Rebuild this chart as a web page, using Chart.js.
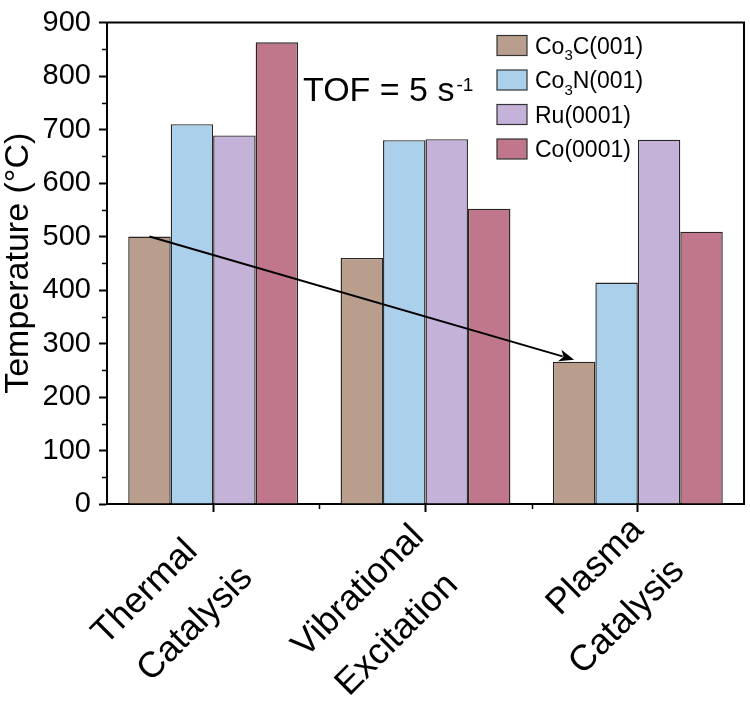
<!DOCTYPE html>
<html>
<head>
<meta charset="utf-8">
<script src="https://cdn.jsdelivr.net/npm/chart.js@4.4.1/dist/chart.umd.min.js"></script>
<style>
  html, body { margin: 0; padding: 0; background: #fff; }
  #wrap { width: 750px; height: 701px; }
</style>
</head>
<body>
<div id="wrap"><canvas id="chart"></canvas></div>
<script>
const categories = [['Thermal', 'Catalysis'], ['Vibrational', 'Excitation'], ['Plasma', 'Catalysis']];
// trailing spaces per label line, to nudge the rotated labels like the original
const tailSpaces = [[3, 1], [1, 2], [0, 0]];

const seriesLabels = ['Co₃C(001)', 'Co₃N(001)', 'Ru(0001)', 'Co(0001)'];
const co3c = [500, 460, 266];
const co3n = [710, 680, 414];
const ru = [689, 682, 681];
const co = [863, 552, 509];
const seriesColors = ['#b99e8d', '#abd0ec', '#c4b2d9', '#c0778b'];

const yMin = 0;
const yMax = 900;
const yStep = 100;

const FONT = "'Liberation Sans', Arial, sans-serif";

// draw text where ₀-₉ become small lowered digits
function drawRich(ctx, text, x, base, size) {
  let cx = x;
  for (const ch of text) {
    const code = ch.charCodeAt(0);
    if (code >= 0x2080 && code <= 0x2089) {
      ctx.font = Math.round(size * 0.65) + 'px ' + FONT;
      const d = String.fromCharCode(code - 0x2080 + 48);
      ctx.fillText(d, cx, base + size * 0.3);
      cx += ctx.measureText(d).width;
    } else {
      ctx.font = size + 'px ' + FONT;
      ctx.fillText(ch, cx, base);
      cx += ctx.measureText(ch).width;
    }
  }
}

const decor = {
  id: 'decor',
  afterDraw(chart) {
    const { ctx, chartArea: a, scales: { x, y } } = chart;
    ctx.save();
    ctx.strokeStyle = '#000';
    ctx.fillStyle = '#000';

    // frame top + right
    ctx.lineWidth = 2;
    ctx.beginPath();
    ctx.moveTo(a.left - 1, a.top);
    ctx.lineTo(a.right, a.top);
    ctx.lineTo(a.right, a.bottom);
    ctx.stroke();

    // minor ticks
    ctx.lineWidth = 1.5;
    ctx.beginPath();
    for (let v = yMin + yStep / 2; v < yMax; v += yStep) {
      const py = Math.round(y.getPixelForValue(v)) + 0.5;
      ctx.moveTo(a.left - 5, py);
      ctx.lineTo(a.left, py);
    }
    for (let i = 0; i < categories.length - 1; i++) {
      const px = Math.round((x.getPixelForValue(i) + x.getPixelForValue(i + 1)) / 2) + 0.5;
      ctx.moveTo(px, a.bottom);
      ctx.lineTo(px, a.bottom + 5);
    }
    ctx.stroke();

    // arrow from thermal Co3C to plasma Co3C
    const bars = chart.getDatasetMeta(0).data;
    const x0 = bars[0].x, y0 = bars[0].y;
    const x1 = bars[2].x, y1 = bars[2].y - 2;
    const ang = Math.atan2(y1 - y0, x1 - x0);
    const hl = 15, hw = 6;
    ctx.lineWidth = 2;
    ctx.beginPath();
    ctx.moveTo(x0, y0);
    ctx.lineTo(x1 - (hl - 3) * Math.cos(ang), y1 - (hl - 3) * Math.sin(ang));
    ctx.stroke();
    ctx.beginPath();
    ctx.moveTo(x1, y1);
    ctx.lineTo(x1 - hl * Math.cos(ang) + hw * Math.sin(ang), y1 - hl * Math.sin(ang) - hw * Math.cos(ang));
    ctx.lineTo(x1 - (hl - 4) * Math.cos(ang), y1 - (hl - 4) * Math.sin(ang));
    ctx.lineTo(x1 - hl * Math.cos(ang) - hw * Math.sin(ang), y1 - hl * Math.sin(ang) + hw * Math.cos(ang));
    ctx.closePath();
    ctx.fill();

    // TOF note
    ctx.textBaseline = 'alphabetic';
    ctx.textAlign = 'left';
    ctx.font = '34px ' + FONT;
    const tx = a.left + 196, tb = a.top + 78;
    ctx.fillText('TOF = 5 s', tx, tb);
    const tw = ctx.measureText('TOF = 5 s').width;
    ctx.font = '19px ' + FONT;
    ctx.fillText('-1', tx + tw + 2, tb - 10);

    // legend
    chart.data.datasets.forEach((ds, i) => {
      const cy = a.top + 23 + i * 34.5;
      const sx = a.right - 247;
      ctx.fillStyle = ds.backgroundColor;
      ctx.fillRect(sx, cy - 10, 30, 20);
      ctx.strokeStyle = '#333';
      ctx.lineWidth = 1.2;
      ctx.strokeRect(sx, cy - 10, 30, 20);
      ctx.fillStyle = '#000';
      drawRich(ctx, ds.label, sx + 38, cy + 8, 23);
    });

    ctx.restore();
  }
};

const datasets = [co3c, co3n, ru, co].map((vals, i) => ({
  label: seriesLabels[i],
  data: vals,
  backgroundColor: seriesColors[i],
  borderColor: '#262626',
  borderWidth: 1.4,
  categoryPercentage: 0.8,
  barPercentage: 1.0
}));

new Chart(document.getElementById('chart'), {
  type: 'bar',
  data: { labels: categories, datasets: datasets },
  plugins: [decor],
  options: {
    responsive: true,
    maintainAspectRatio: false,
    animation: false,
    layout: { padding: { top: 15, right: 6, left: 0, bottom: 0 } },
    plugins: {
      legend: { display: false },
      tooltip: { enabled: false }
    },
    scales: {
      x: {
        afterFit(s) { s.height = 197; },
        grid: {
          offset: false,
          drawOnChartArea: false,
          tickLength: 8,
          tickColor: '#000',
          tickWidth: 2
        },
        border: { display: true, color: '#000', width: 2 },
        ticks: {
          autoSkip: false,
          minRotation: 45,
          maxRotation: 45,
          padding: -8,
          color: '#000',
          font: { family: FONT, size: 36, lineHeight: 1.61 },
          callback: (v, i) => categories[i].map((s, k) => s + ' '.repeat(tailSpaces[i][k]))
        }
      },
      y: {
        min: yMin,
        max: yMax,
        afterFit(s) { s.width = 107; },
        grid: {
          drawOnChartArea: false,
          tickLength: 8,
          tickColor: '#000',
          tickWidth: 2
        },
        border: { display: true, color: '#000', width: 2 },
        ticks: {
          stepSize: yStep,
          padding: 8,
          color: '#000',
          font: { family: FONT, size: 29, lineHeight: 1.0 }
        },
        title: {
          display: true,
          text: 'Temperature (°C)',
          color: '#000',
          padding: { top: 3, bottom: 0 },
          font: { family: FONT, size: 34, lineHeight: 0.9 }
        }
      }
    }
  }
});
</script>
</body>
</html>
